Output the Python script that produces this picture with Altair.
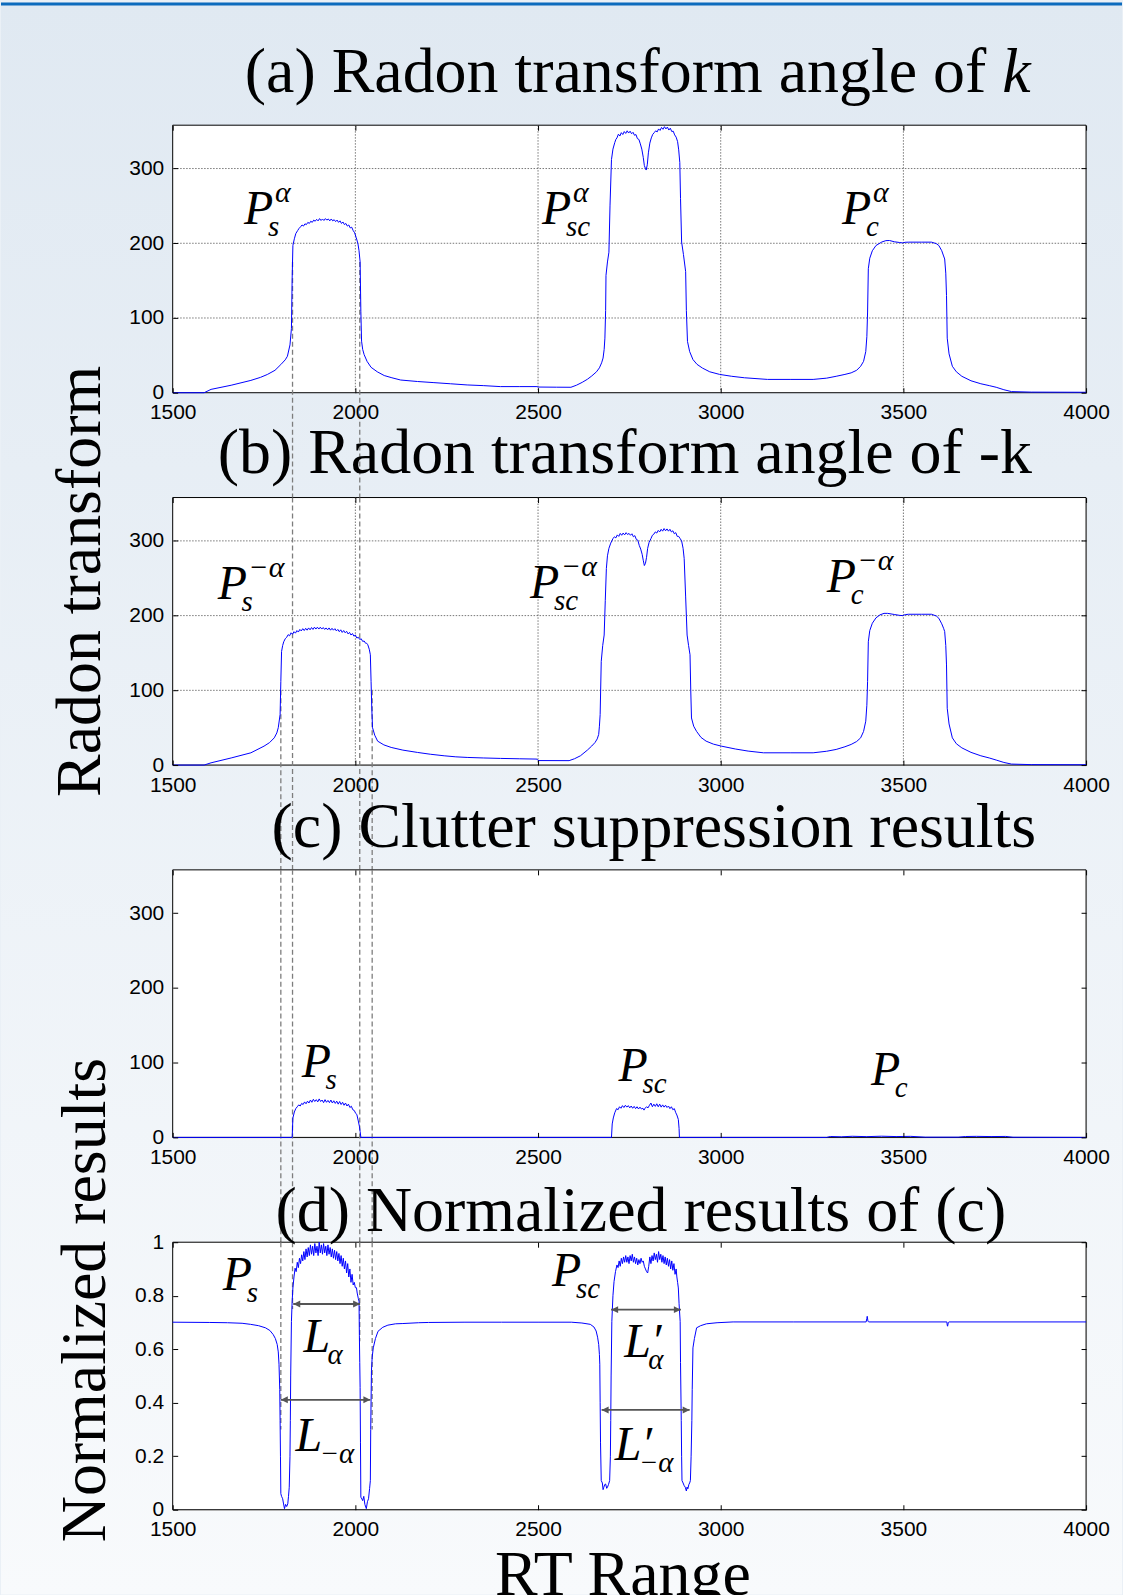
import altair as alt
import pandas as pd

# ---------------- layout / style constants ----------------
W, H = 915, 268
GAP = 105
SERIF = "Liberation Serif"
SANS = "Liberation Sans"
BLUE = "#0000ff"

X_DOMAIN = [1500, 4000]
X_TICKS = [1500, 2000, 2500, 3000, 3500, 4000]
GRID_X = [2000, 2500, 3000, 3500]
RT_DOMAIN = [0, 358]
RT_TICKS = [0, 100, 200, 300]
GRID_Y = [100, 200, 300]
NORM_DOMAIN = [0, 1]
NORM_TICKS = [0, 0.2, 0.4, 0.6, 0.8, 1]

# ---------------- (a) Radon transform at angle k ----------------
A_PTS = [
    (1500, 0), (1586, 0), (1605, 4.5), (1660, 10), (1714, 16.5), (1740, 20.5), (1759, 24.4),
    (1780, 30), (1796, 37.7), (1808, 44), (1814, 48.8), (1821, 64), (1825, 86), (1827, 153),
    (1829, 197), (1833, 206), (1837, 213), (1842, 217), (1846, 220),
    (1850, 222), (1854, 224.5), (1858, 223), (1862, 226), (1866, 225), (1870, 228), (1874, 226.5),
    (1878, 229.5), (1882, 228), (1886, 231), (1890, 229.5), (1894, 232), (1898, 230), (1902, 233),
    (1906, 230.5), (1910, 232.5), (1914, 230.5), (1918, 233), (1922, 231), (1926, 232.5), (1930, 230),
    (1934, 232.5), (1938, 230), (1942, 231.5), (1946, 229), (1950, 231), (1954, 228), (1958, 230),
    (1962, 226.5), (1966, 228.5), (1970, 225), (1974, 226.5), (1978, 223), (1982, 224.5), (1986, 220.5),
    (1990, 221.5), (1994, 217), (1998, 214), (2002, 208), (2005, 203), (2007, 199.5), (2010, 190),
    (2013, 175), (2015, 109), (2017, 69), (2020, 58), (2024, 51), (2032, 42), (2043, 34), (2060, 28),
    (2079, 23), (2100, 20), (2124, 17), (2170, 15), (2215, 13.5), (2260, 12), (2306, 10.4), (2350, 9.5),
    (2397, 8.2), (2450, 8.2), (2497, 8.2), (2500, 7.6), (2550, 7.4), (2590, 7.3), (2605, 10), (2621, 13.9),
    (2635, 18), (2647, 22.4), (2660, 28), (2668, 33.3), (2674, 40), (2678, 46.4), (2681, 58), (2683, 73),
    (2685, 110), (2686, 157), (2690, 175), (2694, 188), (2697, 250), (2701, 312), (2705, 326),
    (2710, 334.7), (2713, 339),
    (2716, 341), (2720, 346), (2724, 343.5), (2728, 348), (2732, 345.5), (2736, 349.5), (2740, 347),
    (2744, 350.5), (2748, 347.5), (2752, 350), (2756, 346.5), (2760, 348.5), (2764, 344.5), (2768, 345.5),
    (2772, 340), (2776, 339), (2780, 333), (2784, 326), (2788, 315), (2791, 304), (2794, 300), (2796, 298),
    (2799, 305), (2802, 321), (2806, 334), (2810, 341), (2814, 345.8), (2818, 348), (2822, 350.5),
    (2826, 349), (2830, 353), (2834, 351), (2838, 355), (2842, 352.5), (2846, 356), (2850, 353),
    (2854, 355.5), (2858, 351.5), (2862, 354), (2866, 349.5), (2870, 350), (2874, 345), (2878, 342),
    (2882, 336), (2885, 325), (2888, 308), (2890, 260), (2893, 201.7), (2898, 185), (2904, 162),
    (2906, 110), (2909, 68.7), (2915, 55), (2924, 44.4), (2935, 38), (2950, 33), (2970, 28), (2997, 24.5),
    (3030, 22), (3065, 20), (3128, 17.8), (3190, 17.8), (3253, 17.8), (3290, 19.5), (3316, 22),
    (3340, 24.5), (3357, 26.6), (3372, 30), (3383, 35.4), (3391, 42), (3397, 55), (3400, 75), (3402, 108),
    (3404, 166), (3408, 180), (3415, 190), (3425, 197), (3441, 201.7), (3452, 203.5), (3462, 203.7),
    (3475, 202), (3490, 201), (3498, 200.5), (3505, 201.3), (3514, 201.5), (3550, 201.5), (3577, 201.5),
    (3590, 199.5), (3597, 197), (3605, 190), (3610, 183), (3613, 179), (3616, 160), (3618, 130),
    (3620, 73), (3625, 52), (3634, 35.4), (3645, 28), (3660, 22), (3685, 16), (3712, 12), (3735, 9.5),
    (3754, 7.3), (3775, 4), (3796, 1.5), (3850, 0.8), (4000, 0.6),
]

# ---------------- (b) Radon transform at angle -k ----------------
B_PTS = [
    (1500, 0), (1586, 0), (1605, 3), (1660, 9.5), (1714, 16.4), (1750, 25.3), (1765, 30), (1778, 36.4),
    (1785, 43), (1789, 50), (1794, 67.6), (1796, 112), (1798, 152), (1801, 160), (1804, 165), (1808, 169),
    (1812, 171), (1816, 174.5), (1820, 173), (1824, 177), (1828, 175), (1832, 178.5), (1836, 176.5),
    (1840, 180), (1844, 178), (1848, 181.5), (1852, 179.5), (1856, 182.5), (1860, 180), (1864, 183),
    (1868, 180.5), (1872, 183.5), (1876, 181), (1880, 184), (1884, 181.5), (1888, 184.5), (1892, 182),
    (1896, 184.5), (1900, 182), (1904, 184.5), (1908, 182), (1912, 184), (1916, 181.5), (1920, 183.5),
    (1924, 181), (1928, 183.5), (1932, 180.5), (1936, 183), (1940, 180.5), (1944, 182.5), (1948, 179.5),
    (1952, 181.5), (1956, 178.5), (1960, 181), (1964, 177.5), (1968, 180), (1972, 177), (1976, 179),
    (1980, 175.5), (1984, 177.5), (1988, 174), (1992, 176), (1996, 172.5), (2000, 174), (2004, 170),
    (2008, 171), (2012, 168), (2016, 169), (2020, 165.5), (2024, 166), (2028, 163), (2031, 163),
    (2034, 161), (2038, 155), (2041, 147.6), (2043, 112), (2045, 75), (2047, 50), (2053, 40), (2061, 32),
    (2078, 27), (2098, 23.6), (2130, 20), (2170, 16.9), (2205, 14.5), (2243, 12.4), (2275, 11),
    (2306, 10.2), (2350, 9.5), (2397, 8.9), (2450, 8.4), (2497, 8), (2500, 6), (2585, 5.9), (2600, 8.5),
    (2616, 12.4), (2635, 20), (2647, 25.5), (2656, 30.2), (2662, 35), (2666, 41), (2668, 52), (2670, 67.6),
    (2673, 138.7), (2677, 160), (2681, 174), (2684, 220), (2687, 263), (2690, 280), (2694, 290),
    (2699, 297), (2705, 303),
    (2709, 305.5), (2713, 304), (2717, 308), (2721, 306), (2725, 310), (2729, 307.5), (2733, 310.5),
    (2737, 308), (2741, 311), (2745, 308.5), (2749, 310), (2753, 307.5), (2757, 309.5), (2761, 305.5),
    (2765, 307), (2769, 302), (2773, 301), (2777, 294), (2781, 289), (2785, 282), (2788, 274), (2791, 267),
    (2794, 270), (2797, 278), (2800, 290), (2804, 298), (2809, 303), (2813, 307.5), (2817, 309),
    (2821, 312), (2825, 310.5), (2829, 314), (2833, 312), (2837, 315.5), (2841, 313), (2845, 316.5),
    (2849, 313.5), (2853, 316), (2857, 313), (2861, 315.5), (2865, 312), (2869, 313.5), (2873, 309.5),
    (2877, 311), (2881, 306), (2885, 306), (2889, 303), (2893, 300), (2897, 290), (2900, 276.4),
    (2904, 225), (2908, 174), (2912, 160), (2916, 147.6), (2918, 100), (2920, 63), (2926, 52), (2934, 45),
    (2946, 37), (2960, 32), (2980, 28), (3002, 25.3), (3040, 21.5), (3075, 18.7), (3117, 16.4),
    (3190, 16.4), (3253, 16.4), (3290, 18.5), (3316, 20.9), (3340, 24.5), (3357, 27.6), (3372, 31.5),
    (3383, 36.4), (3391, 45), (3397, 58.7), (3400, 80), (3402, 112), (3404, 165), (3408, 180),
    (3415, 189.8), (3425, 197), (3436, 201), (3447, 203), (3457, 203), (3475, 201.5), (3490, 200.3),
    (3498, 200), (3505, 201.3), (3514, 201.8), (3550, 201.8), (3577, 201.8), (3590, 199.5), (3597, 196.4),
    (3605, 189), (3610, 183), (3613, 178.7), (3616, 160), (3618, 134), (3620, 76), (3625, 55),
    (3634, 36.4), (3645, 28.5), (3660, 23), (3685, 17), (3712, 12.4), (3735, 9.5), (3754, 6.7),
    (3775, 3.5), (3796, 1.3), (3850, 0.6), (4000, 0.4),
]

# ---------------- (c) clutter suppression output ----------------
C_PTS = [
    (1500, 0), (1827, 0), (1829, 26), (1833, 34), (1837, 38.6),
    (1841, 41), (1845, 43.5), (1849, 42), (1853, 45.5), (1857, 44), (1861, 47.5), (1865, 45),
    (1869, 48.5), (1873, 46), (1877, 50), (1881, 47), (1885, 51), (1889, 48), (1893, 50.5), (1897, 47.5),
    (1901, 51.5), (1905, 48), (1909, 50), (1913, 46.5), (1917, 50.5), (1921, 47), (1925, 49.5),
    (1929, 46.5), (1933, 50), (1937, 46), (1941, 49), (1945, 45.5), (1949, 48.5), (1953, 44.5), (1957, 48),
    (1961, 44), (1965, 47), (1969, 43), (1973, 46), (1977, 42), (1981, 44.5), (1985, 40), (1989, 41.7),
    (1993, 37), (1997, 36), (2001, 32), (2004, 30.7), (2008, 22), (2011, 15), (2013, 8), (2015, 0),
    (2701, 0), (2703, 18), (2706, 26), (2710, 33), (2715, 38.6), (2719, 37), (2723, 41), (2727, 39),
    (2731, 42.5), (2735, 40), (2739, 43), (2743, 40.5), (2747, 42.5), (2751, 39.5), (2755, 42), (2759, 39),
    (2763, 41.5), (2767, 38.5), (2771, 41), (2775, 38), (2779, 40.5), (2783, 38), (2787, 39), (2790, 36.5),
    (2793, 39), (2797, 41), (2801, 39.5), (2805, 43), (2809, 46), (2813, 41), (2817, 44.5), (2821, 41.5),
    (2825, 45), (2829, 41), (2833, 44.5), (2837, 40.5), (2841, 43.5), (2845, 40.5), (2849, 43), (2853, 40),
    (2857, 42), (2861, 38.5), (2865, 41), (2869, 37), (2873, 38.5), (2877, 33), (2880, 30), (2884, 24),
    (2886, 12), (2887, 0), (3290, 0), (3300, 1.2), (3330, 0.8), (3360, 1.5), (3400, 1), (3440, 1.6),
    (3480, 1.1), (3520, 1.4), (3560, 0.3), (3650, 0.3), (3670, 1.2), (3700, 1.4), (3740, 1.1),
    (3780, 1.3), (3800, 0.2), (4000, 0),
]

# ---------------- (d) normalized output ----------------
D_PTS = [
    (1500, 0.701), (1600, 0.700), (1650, 0.699), (1690, 0.697), (1713, 0.693), (1735, 0.688),
    (1754, 0.680), (1766, 0.670), (1775, 0.655), (1781, 0.640), (1786, 0.618), (1789, 0.590),
    (1791, 0.544), (1793, 0.45), (1794, 0.333), (1795, 0.2), (1796, 0.06), (1798, 0.05), (1801, 0.041),
    (1803, 0.025), (1806, 0.004), (1809, 0.02), (1812, 0.012), (1815, 0.022), (1817, 0.05), (1819, 0.084),
    (1821, 0.2), (1822, 0.333), (1823, 0.5), (1825, 0.704), (1827, 0.78), (1829, 0.829), (1832, 0.87),
    (1835, 0.903),
    (1838, 0.89), (1841, 0.925), (1844, 0.905), (1847, 0.94), (1850, 0.92), (1853, 0.953), (1856, 0.93),
    (1859, 0.965), (1862, 0.935), (1865, 0.975), (1868, 0.945), (1871, 0.98), (1874, 0.95), (1877, 0.99),
    (1880, 0.955), (1883, 0.985), (1886, 0.95), (1889, 0.995), (1892, 0.96), (1895, 0.985), (1898, 0.95),
    (1901, 1.0), (1904, 0.96), (1907, 0.99), (1910, 0.955), (1913, 0.995), (1916, 0.96), (1919, 0.985),
    (1922, 0.95), (1925, 0.99), (1928, 0.955), (1931, 0.98), (1934, 0.945), (1937, 0.975), (1940, 0.94),
    (1943, 0.97), (1946, 0.935), (1949, 0.965), (1952, 0.93), (1955, 0.958), (1958, 0.92), (1961, 0.95),
    (1964, 0.91), (1967, 0.94), (1970, 0.9), (1973, 0.93), (1976, 0.885), (1979, 0.92), (1982, 0.87),
    (1985, 0.9), (1988, 0.85), (1991, 0.88), (1994, 0.84), (1997, 0.85), (2000, 0.83), (2003, 0.83),
    (2005, 0.81), (2008, 0.79), (2010, 0.779), (2011, 0.65), (2012, 0.55), (2013, 0.457), (2014, 0.25),
    (2015, 0.047), (2018, 0.04), (2020, 0.034), (2023, 0.05), (2026, 0.02), (2030, 0.004), (2033, 0.03),
    (2036, 0.041), (2039, 0.08), (2041, 0.109), (2042, 0.3), (2044, 0.519), (2046, 0.57), (2049, 0.605),
    (2055, 0.64), (2062, 0.667), (2075, 0.682), (2089, 0.69), (2110, 0.695), (2130, 0.696), (2173, 0.699),
    (2200, 0.700), (2300, 0.701), (2400, 0.701), (2500, 0.701), (2591, 0.701), (2620, 0.698),
    (2643, 0.693), (2653, 0.683), (2659, 0.668), (2663, 0.645), (2666, 0.618), (2668, 0.58), (2669, 0.544),
    (2670, 0.4), (2671, 0.25), (2673, 0.109), (2676, 0.1), (2678, 0.075), (2680, 0.084), (2683, 0.095),
    (2685, 0.096), (2688, 0.08), (2690, 0.084), (2693, 0.095), (2696, 0.109), (2698, 0.2), (2699, 0.333),
    (2700, 0.5), (2702, 0.704), (2705, 0.8), (2708, 0.853), (2712, 0.89), (2716, 0.915),
    (2719, 0.905), (2722, 0.93), (2725, 0.91), (2728, 0.94), (2731, 0.92), (2734, 0.945), (2737, 0.925),
    (2740, 0.95), (2743, 0.925), (2746, 0.945), (2749, 0.92), (2752, 0.95), (2755, 0.93), (2758, 0.955),
    (2761, 0.925), (2764, 0.945), (2767, 0.92), (2770, 0.94), (2773, 0.915), (2776, 0.935), (2779, 0.92),
    (2782, 0.94), (2785, 0.925), (2788, 0.93), (2791, 0.91), (2794, 0.9), (2797, 0.89), (2800, 0.885),
    (2803, 0.91), (2806, 0.945), (2809, 0.92), (2812, 0.95), (2815, 0.93), (2818, 0.96), (2821, 0.935),
    (2824, 0.955), (2827, 0.925), (2830, 0.965), (2833, 0.935), (2836, 0.955), (2839, 0.925), (2842, 0.95),
    (2845, 0.92), (2848, 0.945), (2851, 0.915), (2854, 0.94), (2857, 0.91), (2860, 0.935), (2863, 0.9),
    (2866, 0.93), (2869, 0.895), (2872, 0.92), (2875, 0.88), (2878, 0.9), (2880, 0.87), (2882, 0.85),
    (2884, 0.829), (2886, 0.77), (2889, 0.704), (2890, 0.55), (2892, 0.333), (2893, 0.2), (2894, 0.109),
    (2897, 0.1), (2900, 0.09), (2903, 0.084), (2906, 0.07), (2908, 0.085), (2910, 0.078), (2913, 0.095),
    (2915, 0.1), (2917, 0.109), (2919, 0.2), (2921, 0.333), (2922, 0.45), (2924, 0.605), (2928, 0.64),
    (2934, 0.68), (2945, 0.688), (2961, 0.695), (2990, 0.699), (3034, 0.702), (3200, 0.702),
    (3398, 0.702), (3400, 0.715), (3401, 0.723), (3403, 0.705), (3405, 0.702), (3619, 0.702),
    (3620, 0.69), (3621, 0.686), (3623, 0.7), (3625, 0.702), (4000, 0.702),
]

# ---------------- annotation labels: x, y, letter, subscript, superscript ----------------
A_LABELS = [(1695, 226, "P", "s", "α"), (2511, 226, "P", "sc", "α"), (3332, 226, "P", "c", "α")]
B_LABELS = [(1623, 222, "P", "s", "−α"), (2478, 223, "P", "sc", "−α"), (3290, 232, "P", "c", "−α")]
C_LABELS = [(1853, 81, "P", "s", ""), (2720, 75, "P", "sc", ""), (3411, 70, "P", "c", "")]
D_LABELS = [
    (1637, 0.823, "P", "s", ""), (2538, 0.835, "P", "sc", ""),
    (1858, 0.59, "L", "α", ""), (1836, 0.218, "L", "−α", ""),
    (2736, 0.571, "L′", "α", ""), (2710, 0.186, "L′", "−α", ""),
]

# width arrows in (d): start, end, level
D_ARROWS = [(1830, 2013, 0.769), (1796, 2041, 0.411), (2700, 2891, 0.748), (2674, 2915, 0.373)]

# dashed edge markers carried down through the panels: x, top, bottom
A_EDGES = [(1828, 175, -141), (2012, 175, -141)]
B_EDGES = [(1828, 358, -141), (2012, 358, -141), (1796, 100, -141), (2046, 100, -141)]
C_EDGES = [(1828, 358, -141), (2012, 358, -141), (1796, 358, -141), (2046, 358, -141)]
D_EDGES = [(1828, 1, 0.75), (2012, 1, 0.63), (1796, 1, 0.3), (2046, 1, 0.3)]


# ---------------- helpers ----------------
def one_row():
    return pd.DataFrame({"k": [0]})


def x_scale():
    return alt.Scale(domain=X_DOMAIN, nice=False, zero=False)


def y_scale(dom):
    return alt.Scale(domain=dom, nice=False, zero=False)


TICK_STYLE = dict(offset=-5, tickSize=5, tickColor="black", tickWidth=1, domain=False, grid=False,
                  title=None, zindex=2)


def axis_bottom():
    return alt.Axis(orient="bottom", values=X_TICKS, format="d", labelFont=SANS, labelFontSize=21,
                    labelColor="black", labelPadding=9, labelFlush=False, labelOverlap=False, **TICK_STYLE)


def axis_top():
    return alt.Axis(orient="top", values=X_TICKS, labels=False, **TICK_STYLE)


def axis_left(ticks, fmt):
    return alt.Axis(orient="left", values=ticks, format=fmt, labelFont=SANS, labelFontSize=21,
                    labelColor="black", labelPadding=9, labelFlush=False, labelOverlap=False, **TICK_STYLE)


def axis_right(ticks):
    return alt.Axis(orient="right", values=ticks, labels=False, **TICK_STYLE)


def frame():
    return alt.Chart(one_row()).mark_rect(fill="white", stroke="black", strokeWidth=1).encode(
        x=alt.value(0), x2=alt.value(W), y=alt.value(0), y2=alt.value(H))


def text_at(text, x, y, size=64, align="center", style="normal", angle=0):
    return alt.Chart(pd.DataFrame({"t": [text]})).mark_text(
        font=SERIF, fontSize=size, fontStyle=style, align=align, baseline="alphabetic",
        angle=angle, color="black").encode(text="t:N", x=alt.value(x), y=alt.value(y))


def grid_layers(dom):
    gx = alt.Chart(pd.DataFrame({"x": GRID_X})).mark_rule(
        color="#555555", strokeWidth=0.8, strokeDash=[1.5, 1.5]).encode(
        x=alt.X("x:Q", scale=x_scale(), axis=None))
    gy = alt.Chart(pd.DataFrame({"y": GRID_Y})).mark_rule(
        color="#555555", strokeWidth=0.8, strokeDash=[1.5, 1.5]).encode(
        y=alt.Y("y:Q", scale=y_scale(dom), axis=None))
    return [gx, gy]


def edge_layer(edges, dom):
    df = pd.DataFrame(edges, columns=["x", "y", "y2"])
    return alt.Chart(df).mark_rule(color="#7d7d7d", strokeWidth=1.3, strokeDash=[5, 3]).encode(
        x=alt.X("x:Q", scale=x_scale(), axis=None),
        y=alt.Y("y:Q", scale=y_scale(dom), axis=None),
        y2="y2:Q")


def curve_layer(pts, dom, ticks, fmt):
    df = pd.DataFrame(pts, columns=["x", "y"])
    return alt.Chart(df).mark_line(color=BLUE, strokeWidth=1).encode(
        x=alt.X("x:Q", scale=x_scale(), axis=axis_bottom()),
        y=alt.Y("y:Q", scale=y_scale(dom), axis=axis_left(ticks, fmt)))


def label_layers(labels, dom, ticks):
    df = pd.DataFrame(labels, columns=["x", "y", "main", "sub", "sup"])
    base = alt.Chart(df)
    main = base.mark_text(font=SERIF, fontSize=48, fontStyle="italic", align="left",
                          baseline="alphabetic", color="black").encode(
        x=alt.X("x:Q", scale=x_scale(), axis=axis_top()),
        y=alt.Y("y:Q", scale=y_scale(dom), axis=axis_right(ticks)),
        text="main:N")
    sub = base.mark_text(font=SERIF, fontSize=29, fontStyle="italic", align="left",
                         baseline="alphabetic", color="black", dx=24, dy=12).encode(
        x=alt.X("x:Q", scale=x_scale(), axis=None),
        y=alt.Y("y:Q", scale=y_scale(dom), axis=None),
        text="sub:N")
    sup = base.mark_text(font=SERIF, fontSize=30, fontStyle="italic", align="left",
                         baseline="alphabetic", color="black", dx=31, dy=-22).encode(
        x=alt.X("x:Q", scale=x_scale(), axis=None),
        y=alt.Y("y:Q", scale=y_scale(dom), axis=None),
        text="sup:N")
    return [main, sub, sup]


def arrow_layers(arrows, dom):
    df = pd.DataFrame(arrows, columns=["x", "x2", "y"])
    base = alt.Chart(df)
    shaft = base.mark_rule(color="#555555", strokeWidth=1.8).encode(
        x=alt.X("x:Q", scale=x_scale(), axis=None), x2="x2:Q",
        y=alt.Y("y:Q", scale=y_scale(dom), axis=None))
    left = base.mark_point(shape="M0,0L1,-0.5L1,0.5Z", size=196, filled=True, opacity=1,
                           color="#555555").encode(
        x=alt.X("x:Q", scale=x_scale(), axis=None),
        y=alt.Y("y:Q", scale=y_scale(dom), axis=None))
    right = base.mark_point(shape="M0,0L-1,-0.5L-1,0.5Z", size=196, filled=True, opacity=1,
                            color="#555555").encode(
        x=alt.X("x2:Q", scale=x_scale(), axis=None),
        y=alt.Y("y:Q", scale=y_scale(dom), axis=None))
    return [shaft, left, right]


# ---------------- slide background (drawn first, behind every panel) ----------------
backdrop = alt.Chart(one_row()).mark_rect(
    fill=alt.LinearGradient(
        gradient="linear",
        stops=[alt.GradientStop(color="#e0e9f2", offset=0),
               alt.GradientStop(color="#f8fafc", offset=1)],
        x1=0, x2=0, y1=0, y2=1),
    stroke=None).encode(x=alt.value(-172), x2=alt.value(951), y=alt.value(-123), y2=alt.value(1472))
top_band = alt.Chart(one_row()).mark_rect(fill="#0c6bbd").encode(
    x=alt.value(-172), x2=alt.value(951), y=alt.value(-123), y2=alt.value(-120))

# ---------------- panels ----------------
panel_a = alt.layer(
    backdrop, top_band, frame(), *grid_layers(RT_DOMAIN), edge_layer(A_EDGES, RT_DOMAIN),
    curve_layer(A_PTS, RT_DOMAIN, RT_TICKS, "d"), *label_layers(A_LABELS, RT_DOMAIN, RT_TICKS),
    text_at("(a) Radon transform angle of", 815, -33, align="right"),
    text_at("k", 831, -33, align="left", style="italic"),
).properties(width=W, height=H)

panel_b = alt.layer(
    frame(), *grid_layers(RT_DOMAIN), edge_layer(B_EDGES, RT_DOMAIN),
    curve_layer(B_PTS, RT_DOMAIN, RT_TICKS, "d"), *label_layers(B_LABELS, RT_DOMAIN, RT_TICKS),
    text_at("(b) Radon transform angle of -k", 453, -25),
    text_at("Radon transform", -73, 84, angle=270),
).properties(width=W, height=H)

panel_c = alt.layer(
    frame(), edge_layer(C_EDGES, RT_DOMAIN),
    curve_layer(C_PTS, RT_DOMAIN, RT_TICKS, "d"), *label_layers(C_LABELS, RT_DOMAIN, RT_TICKS),
    text_at("(c) Clutter suppression results", 482, -23),
).properties(width=W, height=H)

panel_d = alt.layer(
    frame(), edge_layer(D_EDGES, NORM_DOMAIN),
    curve_layer(D_PTS, NORM_DOMAIN, NORM_TICKS, "~g"), *arrow_layers(D_ARROWS, NORM_DOMAIN),
    *label_layers(D_LABELS, NORM_DOMAIN, NORM_TICKS),
    text_at("(d) Normalized results of (c)", 469, -11),
    text_at("Normalized results", -68, 58, angle=270),
    text_at("RT Range", 451, 353),
).properties(width=W, height=H)

chart = alt.vconcat(
    panel_a, panel_b, panel_c, panel_d, spacing=GAP, bounds="flush"
).properties(
    padding={"left": 0, "top": 0, "right": 0, "bottom": -13},
    autosize=alt.AutoSizeParams(type="pad"),
).configure_view(stroke=None).configure(background="#eaf0f6")

chart.save("out.html", embed_options={"renderer": "svg", "actions": False})
